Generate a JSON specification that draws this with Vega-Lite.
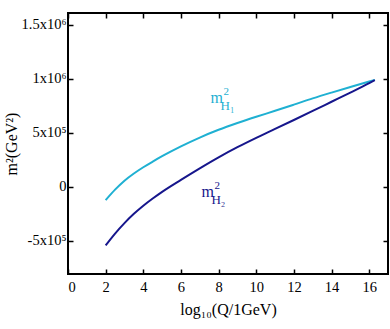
{
  "$schema": "https://vega.github.io/schema/vega-lite/v6.json",
  "width": 320,
  "height": 261,
  "autosize": {"type": "none"},
  "padding": {"left": 68, "top": 13, "right": 2, "bottom": 55},
  "background": "white",
  "config": {
    "view": {"stroke": "black", "strokeWidth": 2},
    "font": "Liberation Serif",
    "axis": {
      "domain": false,
      "grid": false,
      "tickColor": "black",
      "tickSize": -5,
      "tickWidth": 1.5,
      "labelFont": "Liberation Serif",
      "labelFontSize": 14.5,
      "labelColor": "black",
      "titleFont": "Liberation Serif",
      "titleFontSize": 16,
      "titleFontWeight": "normal",
      "titleColor": "black"
    }
  },
  "datasets": {
    "curves": [
      {"param": "H1", "logQ": 2.0, "m2": -125000},
      {"param": "H1", "logQ": 2.5, "m2": -28000},
      {"param": "H1", "logQ": 3.0, "m2": 55000},
      {"param": "H1", "logQ": 3.5, "m2": 122000},
      {"param": "H1", "logQ": 4.0, "m2": 180000},
      {"param": "H1", "logQ": 4.5, "m2": 232000},
      {"param": "H1", "logQ": 5.0, "m2": 282000},
      {"param": "H1", "logQ": 6.0, "m2": 373000},
      {"param": "H1", "logQ": 7.0, "m2": 455000},
      {"param": "H1", "logQ": 8.0, "m2": 527000},
      {"param": "H1", "logQ": 9.0, "m2": 590000},
      {"param": "H1", "logQ": 10.0, "m2": 648000},
      {"param": "H1", "logQ": 11.0, "m2": 703000},
      {"param": "H1", "logQ": 12.0, "m2": 760000},
      {"param": "H1", "logQ": 13.0, "m2": 818000},
      {"param": "H1", "logQ": 14.0, "m2": 872000},
      {"param": "H1", "logQ": 15.0, "m2": 924000},
      {"param": "H1", "logQ": 16.0, "m2": 975000},
      {"param": "H1", "logQ": 16.3, "m2": 990000},
      {"param": "H2", "logQ": 2.0, "m2": -545000},
      {"param": "H2", "logQ": 2.5, "m2": -435000},
      {"param": "H2", "logQ": 3.0, "m2": -338000},
      {"param": "H2", "logQ": 3.5, "m2": -252000},
      {"param": "H2", "logQ": 4.0, "m2": -177000},
      {"param": "H2", "logQ": 4.5, "m2": -110000},
      {"param": "H2", "logQ": 5.0, "m2": -48000},
      {"param": "H2", "logQ": 6.0, "m2": 63000},
      {"param": "H2", "logQ": 7.0, "m2": 170000},
      {"param": "H2", "logQ": 8.0, "m2": 272000},
      {"param": "H2", "logQ": 9.0, "m2": 366000},
      {"param": "H2", "logQ": 10.0, "m2": 453000},
      {"param": "H2", "logQ": 11.0, "m2": 535000},
      {"param": "H2", "logQ": 12.0, "m2": 618000},
      {"param": "H2", "logQ": 13.0, "m2": 702000},
      {"param": "H2", "logQ": 14.0, "m2": 787000},
      {"param": "H2", "logQ": 15.0, "m2": 872000},
      {"param": "H2", "logQ": 16.0, "m2": 960000},
      {"param": "H2", "logQ": 16.3, "m2": 988000}
    ],
    "labels": [
      {"param": "H1", "logQ": 7.57, "m2": 772000, "sub": "H₁"},
      {"param": "H2", "logQ": 7.09, "m2": -94000, "sub": "H₂"}
    ]
  },
  "layer": [
    {
      "data": {"name": "curves"},
      "mark": {"type": "line", "strokeWidth": 2, "interpolate": "monotone"},
      "encoding": {
        "x": {
          "field": "logQ", "type": "quantitative",
          "scale": {"domain": [0, 17], "nice": false, "zero": false},
          "axis": {"values": [0, 2, 4, 6, 8, 10, 12, 14, 16], "title": "log₁₀(Q/1GeV)", "labelPadding": 11, "titlePadding": 8}
        },
        "y": {
          "field": "m2", "type": "quantitative",
          "scale": {"domain": [-810000, 1610000], "nice": false, "zero": false},
          "axis": {
            "values": [-500000, 0, 500000, 1000000, 1500000],
            "labelExpr": "datum.value == 0 ? '0' : datum.value == 500000 ? '5x10⁵' : datum.value == -500000 ? '-5x10⁵' : datum.value == 1000000 ? '1x10⁶' : '1.5x10⁶'",
            "title": "m²(GeV²)",
            "labelPadding": 7,
            "titlePadding": 2
          }
        },
        "color": {
          "field": "param", "type": "nominal",
          "scale": {"domain": ["H1", "H2"], "range": ["#1fb0d2", "#16168c"]},
          "legend": null
        }
      }
    },
    {
      "data": {"name": "curves"},
      "mark": {"type": "line", "opacity": 0},
      "encoding": {
        "x": {
          "field": "logQ", "type": "quantitative",
          "axis": {"orient": "top", "values": [0, 2, 4, 6, 8, 10, 12, 14, 16], "labels": false, "title": null}
        },
        "y": {
          "field": "m2", "type": "quantitative",
          "axis": {"orient": "right", "values": [-500000, 0, 500000, 1000000, 1500000], "labels": false, "title": null}
        }
      }
    },
    {
      "data": {"name": "labels"},
      "mark": {"type": "text", "align": "left", "baseline": "alphabetic", "fontSize": 16, "font": "Liberation Serif"},
      "encoding": {
        "x": {"field": "logQ", "type": "quantitative", "axis": null},
        "y": {"field": "m2", "type": "quantitative", "axis": null},
        "text": {"value": "m"},
        "color": {"field": "param", "type": "nominal", "legend": null}
      }
    },
    {
      "data": {"name": "labels"},
      "mark": {"type": "text", "align": "left", "baseline": "alphabetic", "fontSize": 11, "font": "Liberation Serif", "dx": 13, "dy": -8},
      "encoding": {
        "x": {"field": "logQ", "type": "quantitative", "axis": null},
        "y": {"field": "m2", "type": "quantitative", "axis": null},
        "text": {"value": "2"},
        "color": {"field": "param", "type": "nominal", "legend": null}
      }
    },
    {
      "data": {"name": "labels"},
      "mark": {"type": "text", "align": "left", "baseline": "alphabetic", "fontSize": 13, "font": "Liberation Serif", "dx": 10, "dy": 7},
      "encoding": {
        "x": {"field": "logQ", "type": "quantitative", "axis": null},
        "y": {"field": "m2", "type": "quantitative", "axis": null},
        "text": {"field": "sub"},
        "color": {"field": "param", "type": "nominal", "legend": null}
      }
    }
  ],
  "resolve": {"axis": {"x": "independent", "y": "independent"}}
}
